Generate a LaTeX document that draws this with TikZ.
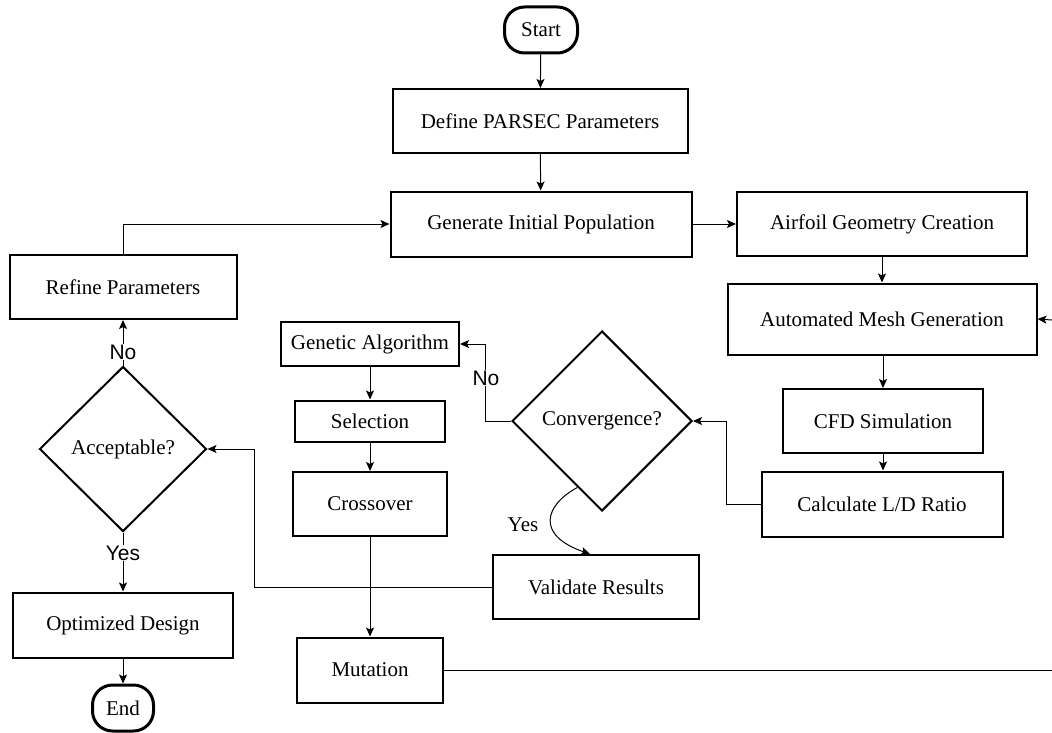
\documentclass[tikz,border=0pt]{standalone}
\usepackage{fontspec}
\setmainfont{Liberation Serif}
\newfontfamily\lblsans{Liberation Sans}
\usetikzlibrary{arrows.meta,shapes.geometric,calc}
\tikzset{
  box/.style={draw, line width=2pt, inner sep=0pt, align=center},
  term/.style={draw, line width=3pt, rounded corners=20pt, inner sep=0pt},
  dec/.style={draw, diamond, line width=2pt, inner sep=0pt, aspect=1},
  conn/.style={line width=1pt},
  arr/.style={line width=1pt, -{Stealth[length=9pt,width=8pt,inset=2pt]}},
  lbl/.style={font=\lblsans\fontsize{21}{25}\selectfont, fill=white, inner sep=1pt},
  slbl/.style={font=\fontsize{21}{25}\selectfont, inner sep=1pt}
}
\begin{document}
\begin{tikzpicture}[x=1pt,y=-1pt,font=\fontsize{21}{25}\selectfont]
\useasboundingbox[fill=white] (0,0) rectangle (1052,733);
% nodes
\node[term, minimum width=73pt, minimum height=46pt] (start) at (541,30) {Start};
\node[box, minimum width=295pt, minimum height=64pt] (def) at (540,121) {Define PARSEC Parameters};
\node[box, minimum width=301pt, minimum height=65pt] (gen) at (541,224) {Generate Initial Population};
\node[box, minimum width=290pt, minimum height=64pt] (air) at (882,224) {Airfoil Geometry Creation};
\node[box, minimum width=309pt, minimum height=71pt] (mesh) at (882,319) {Automated Mesh Generation};
\node[box, minimum width=200pt, minimum height=64pt] (cfd) at (883,421) {CFD Simulation};
\node[box, minimum width=241pt, minimum height=65pt] (calc) at (882,504) {Calculate L/D Ratio};
\node[dec, minimum width=180pt, minimum height=180pt] (conv) at (602,421) {Convergence?};
\node[box, minimum width=178pt, minimum height=44pt] (ga) at (370,344) {Genetic Algorithm};
\node[box, minimum width=150pt, minimum height=41pt] (sel) at (370,421) {Selection};
\node[box, minimum width=154pt, minimum height=64pt] (cro) at (370,504) {Crossover};
\node[box, minimum width=146pt, minimum height=65pt] (mut) at (370,670) {Mutation};
\node[box, minimum width=206pt, minimum height=64pt] (val) at (596,587) {Validate Results};
\node[box, minimum width=227pt, minimum height=64pt] (ref) at (123,287) {Refine Parameters};
\node[dec, minimum width=167pt, minimum height=165pt] (acc) at (123,449) {Acceptable?};
\node[box, minimum width=220pt, minimum height=65pt] (opt) at (123,625) {Optimized Design};
\node[term, minimum width=61pt, minimum height=46pt] (end) at (123,708) {End};
\coordinate (mutout) at (1052,670);
\coordinate (meshin) at (1052,320);
% connectors
\draw[arr] (start) -- (def);
\draw[arr] (def) -- (gen);
\draw[arr] (gen) -- (air);
\draw[arr] (air) -- (mesh);
\draw[arr] (mesh.south -| cfd.north) -- (cfd.north);
\draw[arr] (cfd) -- (calc.north -| cfd.south);
\draw[arr] (calc.west) -- ++(-34,0) |- (conv.east);
\draw[arr] (conv.west) -- ++(-26,0) |- (ga.east);
\node[lbl] (no1) at (486,378) {No};
\draw[arr] ($(conv.west)!0.73!(conv.south)$) .. controls (545,505) and (535,535) .. ([xshift=-6pt]val.north);
\node[slbl] (yes1) at (523,525) {Yes};
\draw[arr] (ga) -- (sel);
\draw[arr] (sel) -- (cro);
\draw[arr] (val.west) -- ++(-238,0) |- (acc.east);
\draw[arr] (cro) -- (mut);
\draw[conn] (mut.east) -- (mutout);
\draw[arr] (meshin) -- (mesh.east);
\draw[arr] (ref.north) |- (gen.west);
\draw[arr] (acc.north) -- (ref.south);
\node[lbl] (no2) at (123,352) {No};
\draw[arr] (acc.south) -- (opt.north);
\node[lbl] (yes2) at (123,553) {Yes};
\draw[arr] (opt) -- (end);
\end{tikzpicture}
\end{document}
